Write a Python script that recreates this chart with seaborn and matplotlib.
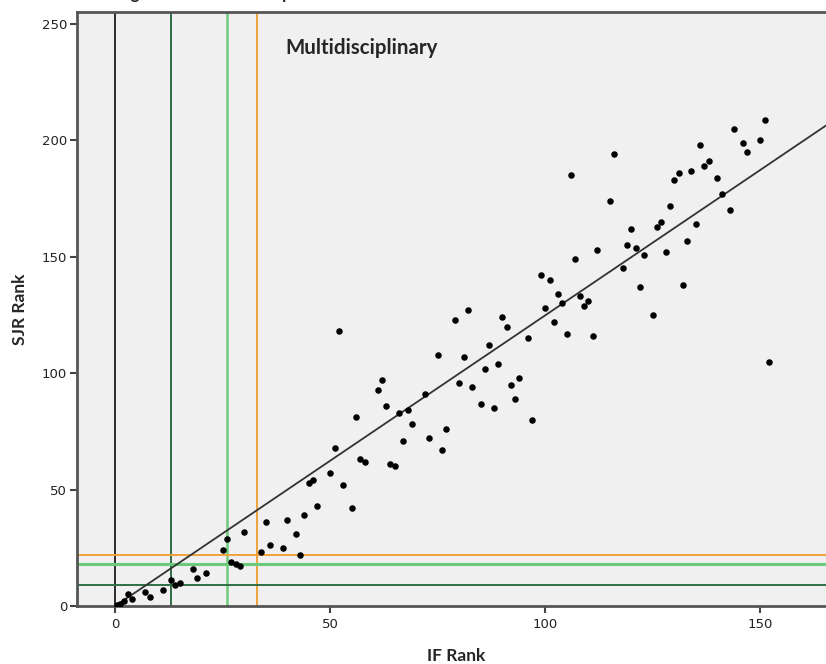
import matplotlib
matplotlib.use("Agg")
import matplotlib.pyplot as plt
import seaborn as sns
import numpy as np
import pandas as pd

if_rank = [0.5, 1, 2, 3, 4, 7, 8, 11, 13, 14, 15, 18, 19, 21, 25, 26, 27, 28, 29, 30,
           34, 35, 36, 39, 40, 42, 43, 44, 45, 46, 47, 50, 51, 52, 53, 55, 56, 57, 58,
           61, 62, 63, 64, 65, 66, 67, 68, 69, 72, 73, 75, 76, 77, 79, 80, 81, 82, 83,
           85, 86, 87, 88, 89, 90, 91, 92, 93, 94, 96, 97, 99, 100, 101, 102, 103, 104,
           105, 106, 107, 108, 109, 110, 111, 112, 115, 116, 118, 119, 120, 121, 122,
           123, 125, 126, 127, 128, 129, 130, 131, 132, 133, 134, 135, 136, 137, 138,
           140, 141, 143, 144, 146, 147, 150, 151, 152]
sjr_rank = [0.5, 1, 2, 5, 3, 6, 4, 7, 11, 9, 10, 16, 12, 14, 24, 29, 19, 18, 17, 32,
            23, 36, 26, 25, 37, 31, 22, 39, 53, 54, 43, 57, 68, 118, 52, 42, 81, 63, 62,
            93, 97, 86, 61, 60, 83, 71, 84, 78, 91, 72, 108, 67, 76, 123, 96, 107, 127, 94,
            87, 102, 112, 85, 104, 124, 120, 95, 89, 98, 115, 80, 142, 128, 140, 122, 134, 130,
            117, 185, 149, 133, 129, 131, 116, 153, 174, 194, 145, 155, 162, 154, 137,
            151, 125, 163, 165, 152, 172, 183, 186, 138, 157, 187, 164, 198, 189, 191,
            184, 177, 170, 205, 199, 195, 200, 209, 105]

ref_x = [0, 13, 26, 33]
ref_x_colors = ["#2b2b2b", "#2f6e45", "#6ccb7a", "#f0a23c"]
ref_y = [9, 18, 22]
ref_y_colors = ["#2f6e45", "#6ccb7a", "#f0a23c"]

x_ticks = [0, 50, 100, 150]
y_ticks = [0, 50, 100, 150, 200, 250]

df = pd.DataFrame({"IF Rank": if_rank, "SJR Rank": sjr_rank})

sns.set_style("white")
plt.rcParams["font.family"] = ["DejaVu Sans"]

fig = plt.figure(figsize=(8.26, 6.64), dpi=100)
ax = fig.add_axes([77 / 826, 1 - 606 / 664, 1 - 77 / 826 + 0.01, (606 - 12) / 664])
ax.set_facecolor("#f0f0f0")

for xv, c in zip(ref_x, ref_x_colors):
    ax.axvline(xv, color=c, lw=1.4 if c != "#6ccb7a" else 1.8, zorder=1)
for yv, c in zip(ref_y, ref_y_colors):
    ax.axhline(yv, color=c, lw=1.4 if c != "#6ccb7a" else 2.2, zorder=1)

sns.scatterplot(data=df, x="IF Rank", y="SJR Rank", ax=ax, s=22, color="black",
                linewidth=0, alpha=1, zorder=3)

# fit line (least squares through the origin)
xa = np.asarray(if_rank, float)
ya = np.asarray(sjr_rank, float)
slope = (xa * ya).sum() / (xa * xa).sum()
xl = np.array([-8.9, 167.2])
ax.plot(xl, slope * xl, color="#333333", lw=1.3, zorder=2)

ax.set_xlim(-8.9, 167.2)
ax.set_ylim(0, 255.2)
ax.set_xticks(x_ticks)
ax.set_yticks(y_ticks)
ax.tick_params(axis="both", direction="out", length=5, width=1.5, color="#444444",
               labelsize=9.5, labelcolor="#222222", bottom=True, left=True)
ax.tick_params(axis="x", pad=4)
ax.tick_params(axis="y", pad=2)
for side in ["left", "top", "bottom"]:
    ax.spines[side].set_color("#555555")
    ax.spines[side].set_linewidth(2)
ax.spines["right"].set_visible(False)

ax.set_xlabel("IF Rank", fontfamily="Lato", fontweight="bold", fontsize=12.5, labelpad=12)
ax.set_ylabel("SJR Rank", fontfamily="Lato", fontweight="bold", fontsize=12.5, labelpad=10)

fig.text(285 / 826, 1 - 48 / 664, "Multidisciplinary", fontfamily="Lato",
         fontweight="bold", fontsize=14.8, va="center", ha="left")
# cut-off title at top (only descenders visible)
fig.text(80 / 826, 1 + 1.5 / 664, "Ranking of IF and SJR: Comparison", fontfamily="Lato",
         fontweight="bold", fontsize=12, va="baseline", ha="left")

fig.savefig("out.png", dpi=100)
